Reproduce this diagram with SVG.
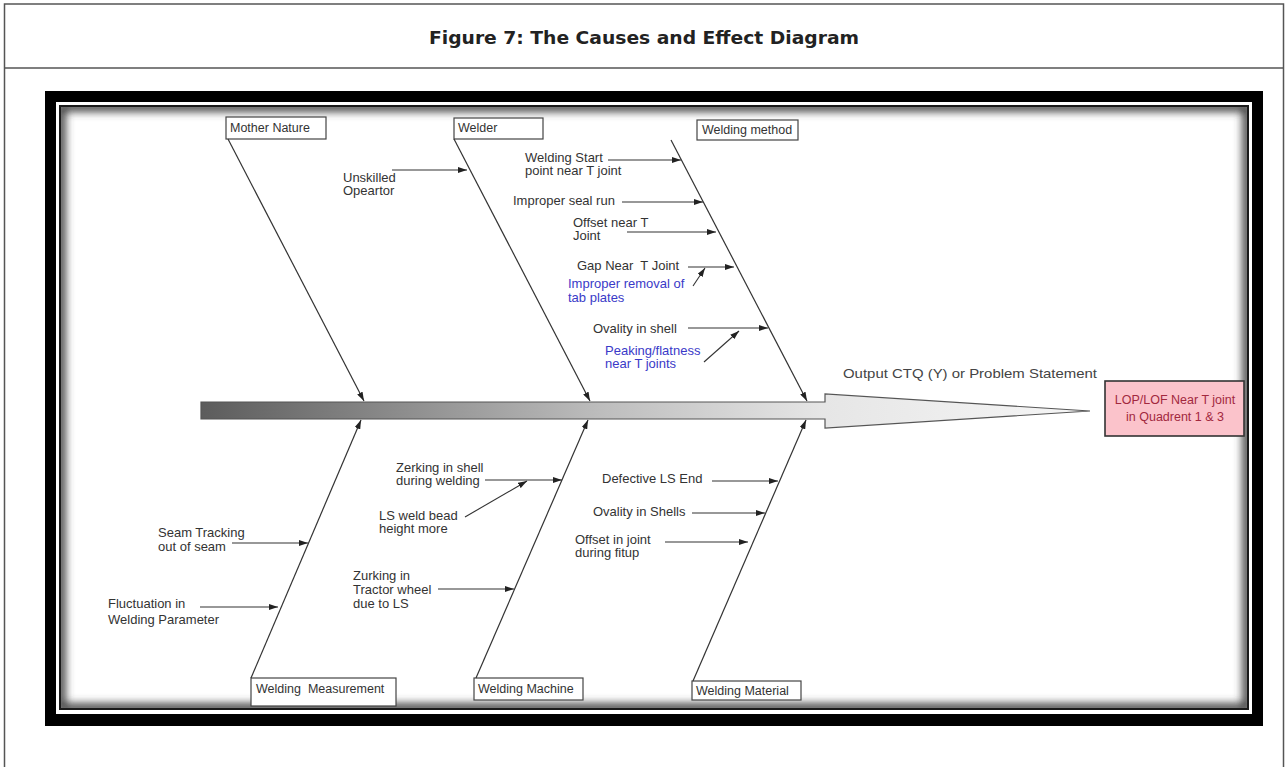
<svg xmlns="http://www.w3.org/2000/svg" width="1288" height="767" viewBox="0 0 1288 767">
  <style>
    .page { fill: none; stroke: #555; stroke-width: 1.5; }
    .title { font-family: "DejaVu Sans", "Liberation Sans", sans-serif; font-weight: bold; font-size: 18px; fill: #222; }
    .cat rect { fill: #fff; stroke: #444; stroke-width: 1.2; }
    .cat text { font-family: "Liberation Sans", Arial, sans-serif; font-size: 12.5px; fill: #333; }
    .cause { font-family: "Liberation Sans", Arial, sans-serif; font-size: 13px; fill: #333; }
    .sub { font-family: "Liberation Sans", Arial, sans-serif; font-size: 13px; fill: #3a3ac8; }
    .bone { stroke: #333; stroke-width: 1.2; fill: none; marker-end: url(#tip); }
    .feed { stroke: #333; stroke-width: 1.1; fill: none; marker-end: url(#tip); }
    .effect rect { fill: #fbc3cb; stroke: #333; stroke-width: 1.6; }
    .effect text { font-family: "Liberation Sans", Arial, sans-serif; font-size: 12.5px; fill: #a2283e; text-anchor: middle; }
    .ctq { font-family: "Liberation Sans", Arial, sans-serif; font-size: 13px; fill: #444; }
  </style>
  <defs>
    <marker id="tip" viewBox="0 0 9 6" refX="9" refY="3" markerWidth="9" markerHeight="6" markerUnits="userSpaceOnUse" orient="auto">
      <path d="M0,0 L9,3 L0,6 z" fill="#222"/>
    </marker>
    <linearGradient id="spineFill" gradientUnits="userSpaceOnUse" x1="201" y1="0" x2="1090" y2="0">
      <stop offset="0" stop-color="#5c5c5c"/>
      <stop offset="0.45" stop-color="#bdbdbd"/>
      <stop offset="0.7" stop-color="#e6e6e6"/>
      <stop offset="1" stop-color="#f6f6f6"/>
    </linearGradient>
    <clipPath id="innerClip">
      <rect x="61" y="107" width="1186" height="601"/>
    </clipPath>
    <filter id="soft" x="-5%" y="-5%" width="110%" height="110%">
      <feGaussianBlur stdDeviation="4"/>
    </filter>
  </defs>

  <!-- page frame and title band -->
  <rect x="0" y="0" width="1288" height="767" fill="#fff"/>
  <rect class="page" x="4.5" y="4" width="1279" height="780"/>
  <line class="page" x1="4.5" y1="68" x2="1283.5" y2="68"/>
  <text class="title" x="644" y="44" text-anchor="middle" textLength="430" lengthAdjust="spacingAndGlyphs">Figure 7: The Causes and Effect Diagram</text>

  <!-- picture frame: black border, white rule, dark rule, inner shadow -->
  <rect x="45" y="91" width="1218" height="635" fill="#000"/>
  <rect x="56" y="102" width="1196" height="612" fill="#fff"/>
  <rect x="59" y="105" width="1190" height="605" fill="#1a1a1a"/>
  <rect x="61" y="107" width="1186" height="601" fill="#fff"/>
  <g clip-path="url(#innerClip)">
    <rect x="61" y="107" width="1186" height="601" fill="none" stroke="#3a3a3a" stroke-width="9" filter="url(#soft)"/>
  </g>

  <!-- main spine arrow -->
  <g id="spine">
    <polygon points="201,402 825,402 825,394 1090,411 825,428 825,419 201,419" fill="url(#spineFill)" stroke="#555" stroke-width="1.2"/>
  </g>

  <!-- effect -->
  <g id="effect" class="effect">
    <rect x="1105" y="381" width="139" height="55"/>
    <text x="1175" y="404">LOP/LOF Near T joint</text>
    <text x="1175" y="421">in Quadrent 1 &amp; 3</text>
  </g>
  <g id="ctq-label">
    <text class="ctq" x="843" y="378" textLength="254" lengthAdjust="spacingAndGlyphs">Output CTQ (Y) or Problem Statement</text>
  </g>

  <!-- category boxes -->
  <g id="cat-mother-nature" class="cat">
    <rect x="226" y="117" width="100" height="22"/>
    <text x="230" y="132">Mother Nature</text>
  </g>
  <g id="cat-welder" class="cat">
    <rect x="454" y="118" width="89" height="21"/>
    <text x="458" y="132">Welder</text>
  </g>
  <g id="cat-welding-method" class="cat">
    <rect x="697" y="120" width="101" height="20"/>
    <text x="702" y="134">Welding method</text>
  </g>
  <g id="cat-welding-measurement" class="cat">
    <rect x="251" y="678" width="145" height="28"/>
    <text x="256" y="693" xml:space="preserve">Welding  Measurement</text>
  </g>
  <g id="cat-welding-machine" class="cat">
    <rect x="474" y="678" width="109" height="22"/>
    <text x="478" y="693">Welding Machine</text>
  </g>
  <g id="cat-welding-material" class="cat">
    <rect x="692" y="681" width="109" height="19"/>
    <text x="696" y="695">Welding Material</text>
  </g>

  <!-- causes -->
  <g id="cause-unskilled"><text class="cause" x="343" y="182">Unskilled</text><text class="cause" x="343" y="195">Opeartor</text></g>
  <g id="cause-start-point"><text class="cause" x="525" y="162">Welding Start</text><text class="cause" x="525" y="175">point near T joint</text></g>
  <g id="cause-seal-run"><text class="cause" x="513" y="205">Improper seal run</text></g>
  <g id="cause-offset-t"><text class="cause" x="573" y="227">Offset near T</text><text class="cause" x="573" y="240">Joint</text></g>
  <g id="cause-gap"><text class="cause" x="577" y="270" xml:space="preserve">Gap Near  T Joint</text></g>
  <g id="cause-tab-plates"><text class="sub" x="568" y="288">Improper removal of</text><text class="sub" x="568" y="302">tab plates</text></g>
  <g id="cause-ovality-shell"><text class="cause" x="593" y="333">Ovality in shell</text></g>
  <g id="cause-peaking"><text class="sub" x="605" y="355">Peaking/flatness</text><text class="sub" x="605" y="368">near T joints</text></g>
  <g id="cause-seam-tracking"><text class="cause" x="158" y="537">Seam Tracking</text><text class="cause" x="158" y="551">out of seam</text></g>
  <g id="cause-fluctuation"><text class="cause" x="108" y="608">Fluctuation in</text><text class="cause" x="108" y="624">Welding Parameter</text></g>
  <g id="cause-zerking"><text class="cause" x="396" y="472">Zerking in shell</text><text class="cause" x="396" y="485">during welding</text></g>
  <g id="cause-bead-height"><text class="cause" x="379" y="520">LS weld bead</text><text class="cause" x="379" y="533">height more</text></g>
  <g id="cause-zurking"><text class="cause" x="353" y="580">Zurking in</text><text class="cause" x="353" y="594">Tractor wheel</text><text class="cause" x="353" y="608">due to LS</text></g>
  <g id="cause-ls-end"><text class="cause" x="602" y="483">Defective LS End</text></g>
  <g id="cause-ovality-shells"><text class="cause" x="593" y="516">Ovality in Shells</text></g>
  <g id="cause-offset-fitup"><text class="cause" x="575" y="544">Offset in joint</text><text class="cause" x="575" y="557">during fitup</text></g>

  <!-- connectors: bones into the spine and cause arrows into the bones -->
  <g id="connectors">
    <line class="bone" x1="228" y1="139" x2="364" y2="401"/>
    <line class="bone" x1="454" y1="139" x2="590" y2="401"/>
    <line class="bone" x1="671" y1="140" x2="807" y2="401"/>
    <line class="bone" x1="251" y1="678" x2="361" y2="420"/>
    <line class="bone" x1="476" y1="678" x2="588" y2="420"/>
    <line class="bone" x1="693" y1="681" x2="806" y2="420"/>

    <line class="feed" x1="392" y1="170" x2="467" y2="170"/>
    <line class="feed" x1="608" y1="160" x2="681" y2="160"/>
    <line class="feed" x1="622" y1="202" x2="703" y2="202"/>
    <line class="feed" x1="627" y1="232" x2="716" y2="232"/>
    <line class="feed" x1="688" y1="267" x2="734" y2="267"/>
    <line class="feed" x1="693" y1="286" x2="705" y2="268"/>
    <line class="feed" x1="688" y1="328" x2="768" y2="328"/>
    <line class="feed" x1="704" y1="362" x2="739" y2="331"/>
    <line class="feed" x1="232" y1="543" x2="308" y2="543"/>
    <line class="feed" x1="200" y1="607" x2="278" y2="607"/>
    <line class="feed" x1="485" y1="480" x2="562" y2="480"/>
    <line class="feed" x1="465" y1="517" x2="527" y2="481"/>
    <line class="feed" x1="438" y1="589" x2="514" y2="589"/>
    <line class="feed" x1="712" y1="481" x2="778" y2="481"/>
    <line class="feed" x1="692" y1="513" x2="765" y2="513"/>
    <line class="feed" x1="665" y1="542" x2="748" y2="542"/>
  </g>
</svg>
